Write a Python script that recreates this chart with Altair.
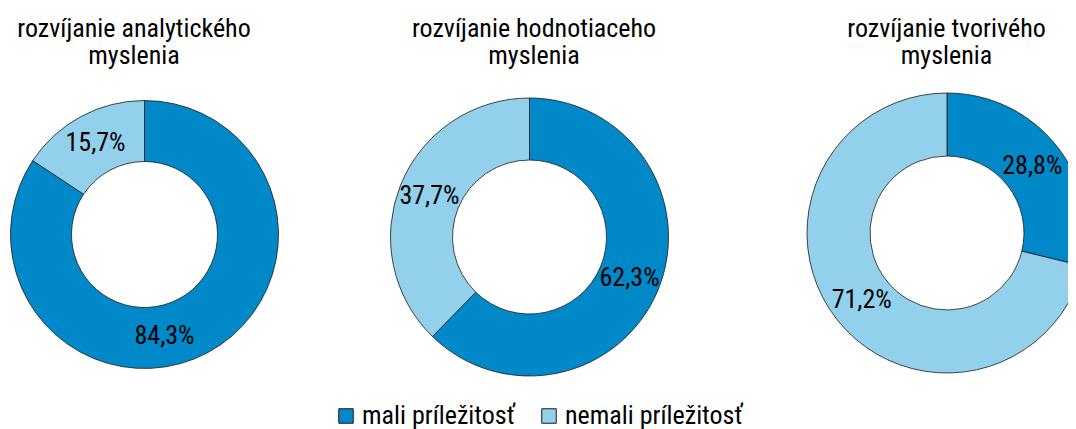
import altair as alt
import pandas as pd

groups = ["rozvíjanie analytického\nmyslenia", "rozvíjanie hodnotiaceho\nmyslenia", "rozvíjanie tvorivého\nmyslenia"]
categories = ["mali príležitosť", "nemali príležitosť"]
mali = [84.3, 62.3, 28.8]
nemali = [15.7, 37.7, 71.2]
colors = ["#0088C9", "#92D0EC"]

rows = []
for i, (a, b) in enumerate(zip(mali, nemali)):
    for j, (c, v) in enumerate(zip(categories, [a, b])):
        rows.append({"gi": i, "cat": c, "value": v, "order": j,
                     "label": f"{v:.1f}%".replace(".", ",")})
df = pd.DataFrame(rows)
tdf = pd.DataFrame({"gi": list(range(len(groups))), "title": groups})

FONT = "Roboto Condensed"
FS = 26
OFF = 8

# layout (page coordinates): center x, center y, outer r, inner r, title x
layout = [
    (144.5, 234.5, 134, 73, 134),
    (529.5, 237.0, 139, 77, 534),
    (947.0, 233.0, 140, 77, 946.5),
]

color_scale = alt.Scale(domain=categories, range=colors)

layers = []
for i, (cx, cy, ro, ri, tx) in enumerate(layout):
    base = alt.Chart(df).transform_filter(f"datum.gi == {i}")
    arc = base.mark_arc(outerRadius=ro, innerRadius=ri, stroke="#1a1a1a", strokeWidth=0.8).encode(
        x=alt.value(cx - OFF), y=alt.value(cy - OFF),
        theta=alt.Theta("value:Q", stack=True),
        order=alt.Order("order:Q"),
        color=alt.Color("cat:N", scale=color_scale,
                        legend=alt.Legend(title=None, orient="none", direction="horizontal",
                                          legendX=325, legendY=395, padding=0,
                                          symbolType="square",
                                          symbolSize=210, symbolStrokeColor="#1a1a1a",
                                          symbolStrokeWidth=1, labelFont=FONT,
                                          labelFontSize=FS, labelColor="#000",
                                          labelLimit=400,
                                          columnPadding=21, labelOffset=3) if i == 0 else None),
    )
    layers.append(arc)
    rm = (ro + ri) / 2
    if i == 0:
        # big slice label shifted as in the original
        t1 = base.transform_filter("datum.order == 0").mark_text(
            radius=rm, font=FONT, fontSize=FS, color="#000", dx=-29, dy=10).encode(
            x=alt.value(cx - OFF), y=alt.value(cy - OFF),
            theta=alt.Theta("value:Q", stack=True), order=alt.Order("order:Q"),
            text="label:N")
        layers.append(t1)
        t2 = base.mark_text(radius=rm, font=FONT, fontSize=FS, color="#000").encode(
            x=alt.value(cx - OFF), y=alt.value(cy - OFF),
            theta=alt.Theta("value:Q", stack=True), order=alt.Order("order:Q"),
            text="label:N",
            opacity=alt.condition("datum.order == 0", alt.value(0), alt.value(1)))
        layers.append(t2)
    else:
        t = base.mark_text(radius=rm, font=FONT, fontSize=FS, color="#000").encode(
            x=alt.value(cx - OFF), y=alt.value(cy - OFF),
            theta=alt.Theta("value:Q", stack=True), order=alt.Order("order:Q"),
            text="label:N")
        layers.append(t)
    title = alt.Chart(tdf).transform_filter(f"datum.gi == {i}").mark_text(
        font=FONT, fontSize=FS, color="#000", lineBreak="\n", lineHeight=27.5,
        baseline="alphabetic", align="center").encode(
        x=alt.value(tx - OFF), y=alt.value(36.5 - OFF), text="title:N")
    layers.append(title)

chart = alt.layer(*layers).properties(
    width=1060, height=421,
    autosize=alt.AutoSizeParams(type="none"), padding=0,
).configure_view(strokeWidth=0)

chart.save("out.html", embed_options={"renderer": "svg", "actions": False})
